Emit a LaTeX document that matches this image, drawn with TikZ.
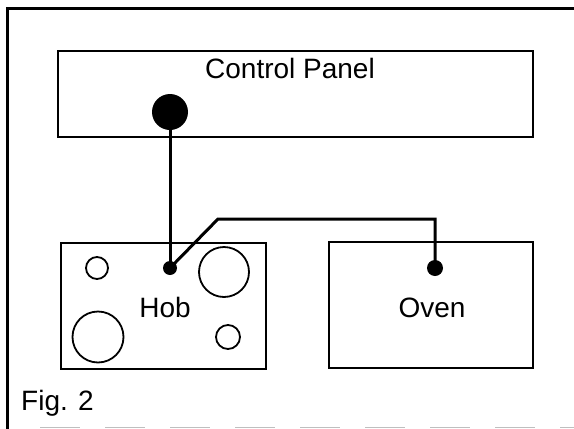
\documentclass[tikz,border=0pt]{standalone}
\usepackage{fontspec}
\setmainfont{Liberation Sans}

\begin{document}
\begin{tikzpicture}[x=1pt,y=-1pt,
    box/.style={draw,line width=1.8pt,inner sep=0pt},
    dot/.style={circle,fill=black,inner sep=0pt},
    wire/.style={line width=3pt},
    lbl/.style={anchor=base,inner sep=0pt,font=\fontsize{28}{32}\selectfont}]
\useasboundingbox (0,0) rectangle (574,429);

% Frame
\draw[line width=3pt] (7,429) -- (7,8) -- (574,8);
\draw[black!25,line width=1pt,dash pattern=on 40pt off 25pt] (40,427) -- (574,427);

% Control panel
\node[box,minimum width=475,minimum height=86] (panel) at (295.5,94) {};
\node[lbl] (paneltxt) at (290,78) {Control Panel};
\node[dot,minimum size=36] (knob) at (170,112) {};

% Hob with burners
\node[box,minimum width=205,minimum height=126] (hob) at (163.5,306) {};
\node[lbl] (hobtxt) at (165,317) {Hob};
\node[dot,minimum size=14] (hobpt) at (170,268) {};
\draw[line width=1.8pt] (97,268) circle (11);
\draw[line width=1.8pt] (224,272) circle (25);
\draw[line width=1.8pt] (98,337) circle (25.5);
\draw[line width=1.8pt] (228,337) circle (12);

% Oven
\node[box,minimum width=204,minimum height=126] (oven) at (431,305) {};
\node[lbl] (oventxt) at (432,317) {Oven};
\node[dot,minimum size=16] (ovenpt) at (435,268) {};

% Wiring
\coordinate (bend) at (218,219);
\draw[wire] (knob.center) -- (hobpt.center);
\draw[wire] (hobpt.center) -- (bend) -| (ovenpt.center);

\node[lbl,anchor=base west] (fig) at (21,410) {Fig. 2};
\end{tikzpicture}
\end{document}
